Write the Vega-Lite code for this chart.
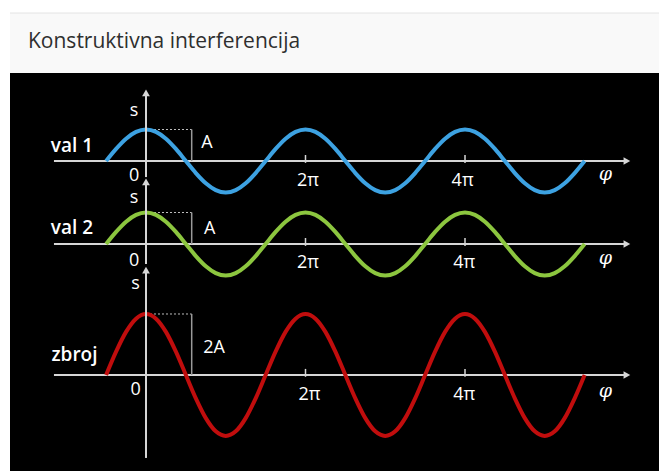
{
  "$schema": "https://vega.github.io/schema/vega-lite/v6.json",
  "padding": {"top": 12, "left": 9, "right": 0, "bottom": 0},
  "background": "#ffffff",
  "config": {"view": {"stroke": null}, "concat": {"spacing": 0}},
  "spacing": 0,
  "bounds": "flush",
  "datasets": {
    "one": [{"n": 1}],
    "waves": [
      {"phi": -0.5, "val1": 0, "val2": 0, "zbroj": 0},
      {"phi": -0.375, "val1": 0.3827, "val2": 0.3827, "zbroj": 0.7654},
      {"phi": -0.25, "val1": 0.7071, "val2": 0.7071, "zbroj": 1.4142},
      {"phi": -0.125, "val1": 0.9239, "val2": 0.9239, "zbroj": 1.8478},
      {"phi": 0, "val1": 1, "val2": 1, "zbroj": 2},
      {"phi": 0.125, "val1": 0.9239, "val2": 0.9239, "zbroj": 1.8478},
      {"phi": 0.25, "val1": 0.7071, "val2": 0.7071, "zbroj": 1.4142},
      {"phi": 0.375, "val1": 0.3827, "val2": 0.3827, "zbroj": 0.7654},
      {"phi": 0.5, "val1": 0, "val2": 0, "zbroj": 0},
      {"phi": 0.625, "val1": -0.3827, "val2": -0.3827, "zbroj": -0.7654},
      {"phi": 0.75, "val1": -0.7071, "val2": -0.7071, "zbroj": -1.4142},
      {"phi": 0.875, "val1": -0.9239, "val2": -0.9239, "zbroj": -1.8478},
      {"phi": 1, "val1": -1, "val2": -1, "zbroj": -2},
      {"phi": 1.125, "val1": -0.9239, "val2": -0.9239, "zbroj": -1.8478},
      {"phi": 1.25, "val1": -0.7071, "val2": -0.7071, "zbroj": -1.4142},
      {"phi": 1.375, "val1": -0.3827, "val2": -0.3827, "zbroj": -0.7654},
      {"phi": 1.5, "val1": 0, "val2": 0, "zbroj": 0},
      {"phi": 1.625, "val1": 0.3827, "val2": 0.3827, "zbroj": 0.7654},
      {"phi": 1.75, "val1": 0.7071, "val2": 0.7071, "zbroj": 1.4142},
      {"phi": 1.875, "val1": 0.9239, "val2": 0.9239, "zbroj": 1.8478},
      {"phi": 2, "val1": 1, "val2": 1, "zbroj": 2},
      {"phi": 2.125, "val1": 0.9239, "val2": 0.9239, "zbroj": 1.8478},
      {"phi": 2.25, "val1": 0.7071, "val2": 0.7071, "zbroj": 1.4142},
      {"phi": 2.375, "val1": 0.3827, "val2": 0.3827, "zbroj": 0.7654},
      {"phi": 2.5, "val1": 0, "val2": 0, "zbroj": 0},
      {"phi": 2.625, "val1": -0.3827, "val2": -0.3827, "zbroj": -0.7654},
      {"phi": 2.75, "val1": -0.7071, "val2": -0.7071, "zbroj": -1.4142},
      {"phi": 2.875, "val1": -0.9239, "val2": -0.9239, "zbroj": -1.8478},
      {"phi": 3, "val1": -1, "val2": -1, "zbroj": -2},
      {"phi": 3.125, "val1": -0.9239, "val2": -0.9239, "zbroj": -1.8478},
      {"phi": 3.25, "val1": -0.7071, "val2": -0.7071, "zbroj": -1.4142},
      {"phi": 3.375, "val1": -0.3827, "val2": -0.3827, "zbroj": -0.7654},
      {"phi": 3.5, "val1": 0, "val2": 0, "zbroj": 0},
      {"phi": 3.625, "val1": 0.3827, "val2": 0.3827, "zbroj": 0.7654},
      {"phi": 3.75, "val1": 0.7071, "val2": 0.7071, "zbroj": 1.4142},
      {"phi": 3.875, "val1": 0.9239, "val2": 0.9239, "zbroj": 1.8478},
      {"phi": 4, "val1": 1, "val2": 1, "zbroj": 2},
      {"phi": 4.125, "val1": 0.9239, "val2": 0.9239, "zbroj": 1.8478},
      {"phi": 4.25, "val1": 0.7071, "val2": 0.7071, "zbroj": 1.4142},
      {"phi": 4.375, "val1": 0.3827, "val2": 0.3827, "zbroj": 0.7654},
      {"phi": 4.5, "val1": 0, "val2": 0, "zbroj": 0},
      {"phi": 4.625, "val1": -0.3827, "val2": -0.3827, "zbroj": -0.7654},
      {"phi": 4.75, "val1": -0.7071, "val2": -0.7071, "zbroj": -1.4142},
      {"phi": 4.875, "val1": -0.9239, "val2": -0.9239, "zbroj": -1.8478},
      {"phi": 5, "val1": -1, "val2": -1, "zbroj": -2},
      {"phi": 5.125, "val1": -0.9239, "val2": -0.9239, "zbroj": -1.8478},
      {"phi": 5.25, "val1": -0.7071, "val2": -0.7071, "zbroj": -1.4142},
      {"phi": 5.375, "val1": -0.3827, "val2": -0.3827, "zbroj": -0.7654},
      {"phi": 5.5, "val1": 0, "val2": 0, "zbroj": 0}
    ],
    "ticks": [{"phi": 2}, {"phi": 4}],
    "labels1": [
      {"phi": -0.15, "s": 1.43, "label": "s"},
      {"phi": -0.15, "s": -0.635, "label": "0"},
      {"phi": 2.03, "s": -0.794, "label": "2π"},
      {"phi": 3.97, "s": -0.794, "label": "4π"},
      {"phi": 0.765, "s": 0.41, "label": "A"}
    ],
    "labels2": [
      {"phi": -0.15, "s": 1.3, "label": "s"},
      {"phi": -0.15, "s": -0.698, "label": "0"},
      {"phi": 2.03, "s": -0.76, "label": "2π"},
      {"phi": 3.99, "s": -0.76, "label": "4π"},
      {"phi": 0.8, "s": 0.317, "label": "A"}
    ],
    "labels3": [
      {"phi": -0.13, "s": 2.82, "label": "s"},
      {"phi": -0.13, "s": -0.656, "label": "0"},
      {"phi": 2.05, "s": -0.82, "label": "2π"},
      {"phi": 3.99, "s": -0.82, "label": "4π"},
      {"phi": 0.853, "s": 0.72, "label": "2A"}
    ]
  },
  "vconcat": [
    {
      "width": 650,
      "height": 60,
      "view": {"fill": "#f9f9f9", "stroke": null},
      "data": {"name": "one"},
      "layer": [
        {
          "mark": {"type": "rule", "color": "#e4e4e4", "strokeWidth": 1},
          "encoding": {
            "x": {"datum": 0, "type": "quantitative", "scale": {"domain": [0, 650], "nice": false, "zero": false}, "axis": null},
            "x2": {"datum": 650},
            "y": {"datum": 60, "type": "quantitative", "scale": {"domain": [0, 60], "nice": false, "zero": false}, "axis": null}
          }
        },
        {
          "data": {"values": [{"title": "Konstruktivna interferencija"}]},
          "mark": {"type": "text", "align": "left", "baseline": "alphabetic", "font": "Open Sans", "fontSize": 21, "color": "#2f2f2f"},
          "encoding": {
            "x": {"datum": 18, "type": "quantitative", "scale": {"domain": [0, 650], "nice": false, "zero": false}, "axis": null},
            "y": {"datum": 25, "type": "quantitative", "scale": {"domain": [0, 60], "nice": false, "zero": false}, "axis": null},
            "text": {"field": "title"}
          }
        }
      ]
    },
    {
      "width": 650,
      "height": 130,
      "view": {"fill": "#000000", "stroke": null},
      "data": {"name": "one"},
      "encoding": {
        "x": {"type": "quantitative", "scale": {"domain": [-1.7053, 6.4451], "nice": false, "zero": false}, "axis": null},
        "y": {"type": "quantitative", "scale": {"domain": [-1.3333, 2.7937], "nice": false, "zero": false}, "axis": null}
      },
      "layer": [
        {"mark": {"type": "rule", "color": "#d6d6d6", "strokeWidth": 2}, "encoding": {"x": {"datum": -1.154}, "x2": {"datum": 6.0}, "y": {"datum": 0}}},
        {"mark": {"type": "point", "shape": "triangle-right", "filled": true, "color": "#d6d6d6", "size": 60, "opacity": 1}, "encoding": {"x": {"datum": 6.03}, "y": {"datum": 0}}},
        {"data": {"name": "ticks"}, "mark": {"type": "rule", "color": "#d6d6d6", "strokeWidth": 1.5}, "encoding": {"x": {"field": "phi"}, "y": {"datum": -0.06}, "y2": {"datum": 0.19}}},
        {"mark": {"type": "rule", "color": "#bdbdbd", "strokeWidth": 1, "strokeDash": [2, 2]}, "encoding": {"x": {"datum": 0}, "x2": {"datum": 0.573}, "y": {"datum": 1}}},
        {"mark": {"type": "rule", "color": "#9a9a9a", "strokeWidth": 1.5}, "encoding": {"x": {"datum": 0.573}, "y": {"datum": 0}, "y2": {"datum": 1}}},
        {"data": {"name": "waves"}, "mark": {"type": "line", "interpolate": "monotone", "strokeWidth": 4, "color": "#3da2e2"}, "encoding": {"x": {"field": "phi"}, "y": {"field": "val1"}}},
        {"mark": {"type": "rule", "color": "#d6d6d6", "strokeWidth": 2}, "encoding": {"x": {"datum": 0}, "y": {"datum": -0.51}, "y2": {"datum": 2.1}}},
        {"mark": {"type": "point", "shape": "triangle-up", "filled": true, "color": "#d6d6d6", "size": 60, "opacity": 1}, "encoding": {"x": {"datum": 0}, "y": {"datum": 2.16}}},
        {"data": {"name": "labels1"}, "mark": {"type": "text", "align": "center", "baseline": "alphabetic", "font": "Open Sans", "fontSize": 18, "color": "#ffffff"}, "encoding": {"x": {"field": "phi"}, "y": {"field": "s"}, "text": {"field": "label"}}},
        {"data": {"values": [{"phi": 5.76, "s": -0.6, "label": "φ"}]}, "mark": {"type": "text", "align": "center", "baseline": "alphabetic", "font": "DejaVu Serif", "fontStyle": "italic", "fontSize": 19, "color": "#ffffff"}, "encoding": {"x": {"field": "phi"}, "y": {"field": "s"}, "text": {"field": "label"}}},
        {"data": {"values": [{"phi": -0.928, "s": 0.286, "label": "val 1"}]}, "mark": {"type": "text", "align": "center", "baseline": "alphabetic", "font": "Open Sans", "fontSize": 19, "fontWeight": 600, "color": "#ffffff"}, "encoding": {"x": {"field": "phi"}, "y": {"field": "s"}, "text": {"field": "label"}}}
      ]
    },
    {
      "width": 650,
      "height": 83,
      "view": {"fill": "#000000", "stroke": null},
      "data": {"name": "one"},
      "encoding": {
        "x": {"type": "quantitative", "scale": {"domain": [-1.7053, 6.4451], "nice": false, "zero": false}, "axis": null},
        "y": {"type": "quantitative", "scale": {"domain": [-1.3333, 1.3016], "nice": false, "zero": false}, "axis": null}
      },
      "layer": [
        {"mark": {"type": "rule", "color": "#d6d6d6", "strokeWidth": 2}, "encoding": {"x": {"datum": -1.154}, "x2": {"datum": 6.0}, "y": {"datum": 0}}},
        {"mark": {"type": "point", "shape": "triangle-right", "filled": true, "color": "#d6d6d6", "size": 60, "opacity": 1}, "encoding": {"x": {"datum": 6.03}, "y": {"datum": 0}}},
        {"data": {"name": "ticks"}, "mark": {"type": "rule", "color": "#d6d6d6", "strokeWidth": 1.5}, "encoding": {"x": {"field": "phi"}, "y": {"datum": -0.06}, "y2": {"datum": 0.19}}},
        {"mark": {"type": "rule", "color": "#bdbdbd", "strokeWidth": 1, "strokeDash": [2, 2]}, "encoding": {"x": {"datum": 0}, "x2": {"datum": 0.573}, "y": {"datum": 1}}},
        {"mark": {"type": "rule", "color": "#9a9a9a", "strokeWidth": 1.5}, "encoding": {"x": {"datum": 0.573}, "y": {"datum": 0}, "y2": {"datum": 1}}},
        {"data": {"name": "waves"}, "mark": {"type": "line", "interpolate": "monotone", "strokeWidth": 4, "color": "#8cc63f"}, "encoding": {"x": {"field": "phi"}, "y": {"field": "val2"}}},
        {"mark": {"type": "rule", "color": "#d6d6d6", "strokeWidth": 2}, "encoding": {"x": {"datum": 0}, "y": {"datum": -0.635}, "y2": {"datum": 1.9}}},
        {"mark": {"type": "point", "shape": "triangle-up", "filled": true, "color": "#d6d6d6", "size": 60, "opacity": 1}, "encoding": {"x": {"datum": 0}, "y": {"datum": 1.97}}},
        {"data": {"name": "labels2"}, "mark": {"type": "text", "align": "center", "baseline": "alphabetic", "font": "Open Sans", "fontSize": 18, "color": "#ffffff"}, "encoding": {"x": {"field": "phi"}, "y": {"field": "s"}, "text": {"field": "label"}}},
        {"data": {"values": [{"phi": 5.76, "s": -0.635, "label": "φ"}]}, "mark": {"type": "text", "align": "center", "baseline": "alphabetic", "font": "DejaVu Serif", "fontStyle": "italic", "fontSize": 19, "color": "#ffffff"}, "encoding": {"x": {"field": "phi"}, "y": {"field": "s"}, "text": {"field": "label"}}},
        {"data": {"values": [{"phi": -0.928, "s": 0.317, "label": "val 2"}]}, "mark": {"type": "text", "align": "center", "baseline": "alphabetic", "font": "Open Sans", "fontSize": 19, "fontWeight": 600, "color": "#ffffff"}, "encoding": {"x": {"field": "phi"}, "y": {"field": "s"}, "text": {"field": "label"}}}
      ]
    },
    {
      "width": 650,
      "height": 186,
      "view": {"fill": "#000000", "stroke": null},
      "data": {"name": "one"},
      "encoding": {
        "x": {"type": "quantitative", "scale": {"domain": [-1.7053, 6.4451], "nice": false, "zero": false}, "axis": null},
        "y": {"type": "quantitative", "scale": {"domain": [-3.1803, 2.918], "nice": false, "zero": false}, "axis": null}
      },
      "layer": [
        {"mark": {"type": "rule", "color": "#d6d6d6", "strokeWidth": 2}, "encoding": {"x": {"datum": -1.154}, "x2": {"datum": 6.0}, "y": {"datum": 0}}},
        {"mark": {"type": "point", "shape": "triangle-right", "filled": true, "color": "#d6d6d6", "size": 60, "opacity": 1}, "encoding": {"x": {"datum": 6.03}, "y": {"datum": 0}}},
        {"data": {"name": "ticks"}, "mark": {"type": "rule", "color": "#d6d6d6", "strokeWidth": 1.5}, "encoding": {"x": {"field": "phi"}, "y": {"datum": -0.06}, "y2": {"datum": 0.2}}},
        {"mark": {"type": "rule", "color": "#bdbdbd", "strokeWidth": 1, "strokeDash": [2, 2]}, "encoding": {"x": {"datum": 0}, "x2": {"datum": 0.573}, "y": {"datum": 2}}},
        {"mark": {"type": "rule", "color": "#9a9a9a", "strokeWidth": 1.5}, "encoding": {"x": {"datum": 0.573}, "y": {"datum": 0}, "y2": {"datum": 2}}},
        {"data": {"name": "waves"}, "mark": {"type": "line", "interpolate": "monotone", "strokeWidth": 4, "color": "#c00d0d"}, "encoding": {"x": {"field": "phi"}, "y": {"field": "zbroj"}}},
        {"mark": {"type": "rule", "color": "#d6d6d6", "strokeWidth": 2}, "encoding": {"x": {"datum": 0}, "y": {"datum": -2.72}, "y2": {"datum": 3.4}}},
        {"mark": {"type": "point", "shape": "triangle-up", "filled": true, "color": "#d6d6d6", "size": 60, "opacity": 1}, "encoding": {"x": {"datum": 0}, "y": {"datum": 3.44}}},
        {"data": {"name": "labels3"}, "mark": {"type": "text", "align": "center", "baseline": "alphabetic", "font": "Open Sans", "fontSize": 18, "color": "#ffffff"}, "encoding": {"x": {"field": "phi"}, "y": {"field": "s"}, "text": {"field": "label"}}},
        {"data": {"values": [{"phi": 5.76, "s": -0.72, "label": "φ"}]}, "mark": {"type": "text", "align": "center", "baseline": "alphabetic", "font": "DejaVu Serif", "fontStyle": "italic", "fontSize": 19, "color": "#ffffff"}, "encoding": {"x": {"field": "phi"}, "y": {"field": "s"}, "text": {"field": "label"}}},
        {"data": {"values": [{"phi": -0.897, "s": 0.459, "label": "zbroj"}]}, "mark": {"type": "text", "align": "center", "baseline": "alphabetic", "font": "Open Sans", "fontSize": 19, "fontWeight": 600, "color": "#ffffff"}, "encoding": {"x": {"field": "phi"}, "y": {"field": "s"}, "text": {"field": "label"}}}
      ]
    }
  ]
}
